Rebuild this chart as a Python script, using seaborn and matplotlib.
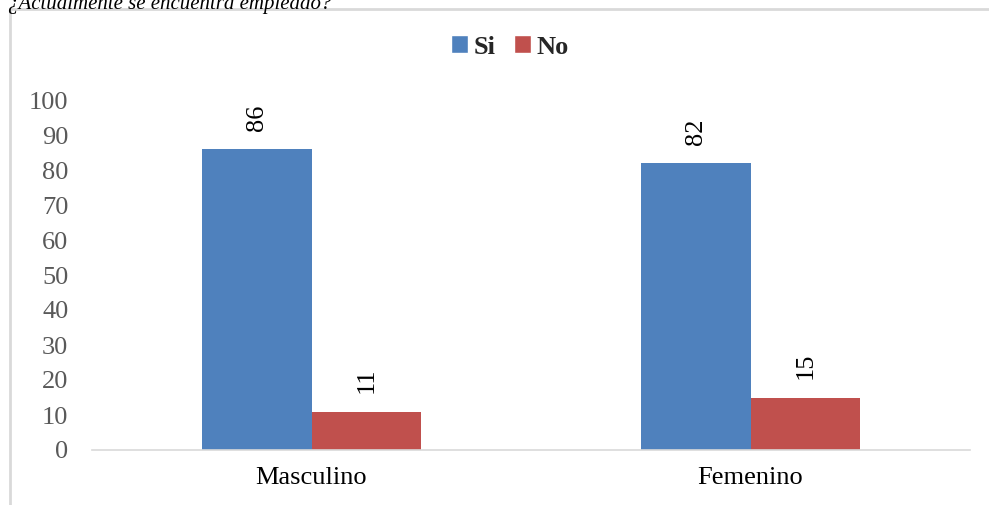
import matplotlib
matplotlib.use("Agg")
import matplotlib.pyplot as plt
import seaborn as sns
import pandas as pd
from matplotlib.patches import Rectangle

categories = ["Masculino", "Femenino"]
series_names = ["Si", "No"]
si_values = [86, 82]
no_values = [11, 15]
yticks = [0, 10, 20, 30, 40, 50, 60, 70, 80, 90, 100]
title = "¿Actualmente se encuentra empleado?"

df = pd.DataFrame({
    "cat": categories * 2,
    "serie": [series_names[0]] * len(categories) + [series_names[1]] * len(categories),
    "val": si_values + no_values,
})

sns.set_theme(style="white")
plt.rcParams["font.family"] = ["Liberation Serif", "DejaVu Serif"]

W, H = 989, 505
fig = plt.figure(figsize=(W / 100, H / 100), dpi=100)
ax = fig.add_axes([92 / W, 1 - 450 / H, (970 - 92) / W, (450 - 100) / H])

palette = {"Si": "#4F81BD", "No": "#C0504D"}
sns.barplot(data=df, x="cat", y="val", hue="serie", hue_order=series_names,
            order=categories, palette=palette, width=0.5, ax=ax,
            saturation=1, legend=True)

for cont in ax.containers:
    for p in cont:
        p.set_edgecolor("none")
    ax.bar_label(cont, labels=[f"{int(v)}" for v in cont.datavalues],
                 rotation=90, padding=13, fontsize=19, color="black")

ax.set_ylim(0, 100)
ax.set_xlim(-0.5, 1.5)
ax.set_yticks(yticks)
ax.set_yticklabels([str(t) for t in yticks], fontsize=19, color="#595959")
ax.tick_params(axis="y", length=0, pad=17)
ax.tick_params(axis="x", length=0, pad=12, labelsize=19, labelcolor="black")
ax.set_xlabel("")
ax.set_ylabel("")
for s in ["top", "right", "left"]:
    ax.spines[s].set_visible(False)
ax.spines["bottom"].set_color("#d9d9d9")
ax.spines["bottom"].set_linewidth(1.2)

leg = ax.legend(loc="center", bbox_to_anchor=(510 / W, 1 - 47 / H),
                bbox_transform=fig.transFigure, ncol=2, frameon=False,
                prop={"weight": "bold", "size": 19}, handlelength=0.65,
                handleheight=0.65, handletextpad=0.2, columnspacing=0.7)

fig.patches.append(Rectangle((10 / W, -0.1), 1.2, 1 - 9 / H + 0.1,
                             transform=fig.transFigure, fill=False,
                             edgecolor="#d9d9d9", linewidth=2))

fig.text(8 / W, 1 - 9 / H, title, fontsize=15, style="italic",
         va="baseline", ha="left", color="black")

fig.savefig("out.png", dpi=100)
